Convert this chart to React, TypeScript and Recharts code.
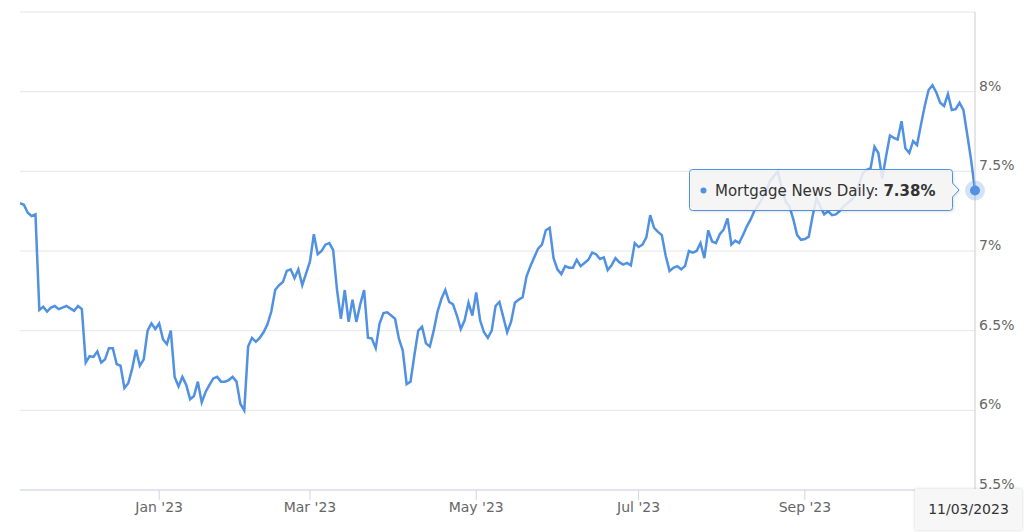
import { LineChart, Line, XAxis, YAxis, CartesianGrid, ReferenceDot } from "recharts";

const seriesName = "Mortgage News Daily";
const lastDate = "11/03/2023";

// one value per trading day, mid Nov 2022 -> 11/03/2023
const rates = [
  7.30, 7.29, 7.24, 7.22, 7.23, 6.63, 6.65, 6.62, 6.645, 6.655,
  6.635, 6.645, 6.655, 6.64, 6.625, 6.655, 6.635, 6.30, 6.34, 6.335,
  6.37, 6.30, 6.32, 6.39, 6.39, 6.29, 6.28, 6.14, 6.17, 6.26,
  6.38, 6.28, 6.32, 6.50, 6.545, 6.51, 6.545, 6.445, 6.415, 6.50,
  6.21, 6.15, 6.21, 6.16, 6.07, 6.09, 6.18, 6.05, 6.115, 6.16,
  6.20, 6.21, 6.18, 6.18, 6.19, 6.21, 6.18, 6.04, 6.00, 6.40,
  6.455, 6.43, 6.455, 6.49, 6.54, 6.62, 6.755, 6.785, 6.805, 6.875,
  6.885, 6.83, 6.885, 6.785, 6.86, 6.935, 7.105, 6.98, 7.00, 7.04,
  7.05, 7.005, 6.755, 6.575, 6.755, 6.555, 6.695, 6.555, 6.665, 6.755,
  6.455, 6.45, 6.39, 6.545, 6.61, 6.615, 6.595, 6.575, 6.45, 6.375,
  6.165, 6.18, 6.345, 6.50, 6.525, 6.42, 6.40, 6.50, 6.62, 6.70,
  6.755, 6.68, 6.665, 6.595, 6.51, 6.565, 6.675, 6.595, 6.74, 6.565,
  6.49, 6.455, 6.50, 6.655, 6.68, 6.585, 6.49, 6.555, 6.675, 6.695,
  6.71, 6.84, 6.905, 6.96, 7.015, 7.04, 7.13, 7.145, 6.955, 6.885,
  6.855, 6.905, 6.895, 6.895, 6.945, 6.905, 6.925, 6.945, 6.99, 6.98,
  6.95, 6.96, 6.88, 6.91, 6.955, 6.93, 6.915, 6.925, 6.91, 7.05,
  7.025, 7.04, 7.085, 7.225, 7.145, 7.12, 7.10, 6.97, 6.875, 6.895,
  6.905, 6.885, 6.905, 7.00, 6.99, 7.00, 7.05, 6.955, 7.13, 7.06,
  7.05, 7.105, 7.135, 7.205, 7.04, 7.065, 7.05, 7.10, 7.155, 7.20,
  7.255, 7.29, 7.33, 7.38, 7.44, 7.47, 7.50, 7.40, 7.31, 7.28,
  7.20, 7.10, 7.07, 7.075, 7.09, 7.22, 7.33, 7.28, 7.23, 7.25,
  7.225, 7.23, 7.25, 7.28, 7.30, 7.32, 7.35, 7.42, 7.49, 7.51,
  7.52, 7.655, 7.615, 7.455, 7.595, 7.725, 7.71, 7.70, 7.815, 7.645,
  7.615, 7.69, 7.665, 7.79, 7.91, 8.01, 8.04, 7.995, 7.93, 7.91,
  7.985, 7.885, 7.89, 7.93, 7.885, 7.73, 7.57, 7.38,
];

// index of the first trading day of each labelled month
const monthTickIndex = [36, 75, 118, 160, 203];
const monthTickLabel = ["Jan '23", "Mar '23", "May '23", "Jul '23", "Sep '23"];

const yTicks = [5.5, 6, 6.5, 7, 7.5, 8, 8.5];

const LINE = "#5191e1";

const chartData = rates.map((rate, i) => ({ i, rate }));
const lastIndex = rates.length - 1;
const lastRate = rates[lastIndex];

function YTick({ x, y, payload }: any) {
  // top gridline has no label
  if (payload.value === 8.5) return null;
  return (
    <text x={x} y={y} dy={-1} textAnchor="start" fill="#666" fontSize={14}>
      {`${payload.value}%`}
    </text>
  );
}

function Marker({ cx, cy }: any) {
  return (
    <g>
      <circle cx={cx} cy={cy} r={10} fill={LINE} fillOpacity={0.25} />
      <circle cx={cx} cy={cy} r={5} fill={LINE} />
    </g>
  );
}

function FakeTooltip() {
  return (
    <svg
      width={275}
      height={44}
      style={{ position: "absolute", left: 689, top: 169, overflow: "visible" }}
    >
      <path
        d="M 3.5 0.5 L 260.5 0.5 Q 263.5 0.5 263.5 3.5 L 263.5 14 L 270 21 L 263.5 28 L 263.5 38.5 Q 263.5 41.5 260.5 41.5 L 3.5 41.5 Q 0.5 41.5 0.5 38.5 L 0.5 3.5 Q 0.5 0.5 3.5 0.5 Z"
        fill="rgba(247,247,247,0.85)"
        stroke={LINE}
        strokeWidth={1}
        style={{ filter: "drop-shadow(1px 1px 1px rgba(0,0,0,0.12))" }}
      />
      <circle cx={14.5} cy={21.5} r={3} fill={LINE} />
      <text x={26} y={27} fontSize={15} fill="#333">
        {`${seriesName}: `}
        <tspan fontWeight="bold">{`${lastRate.toFixed(2)}%`}</tspan>
      </text>
    </svg>
  );
}

export default function App() {
  return (
    <div
      style={{
        position: "absolute",
        left: 0,
        top: 0,
        width: 1024,
        height: 532,
        background: "#fff",
        fontFamily: "'DejaVu Sans', sans-serif",
      }}
    >
      <LineChart
        width={1024}
        height={532}
        data={chartData}
        margin={{ top: 12, right: 0, bottom: 0, left: 20 }}
      >
        <CartesianGrid stroke="#e6e6e6" vertical={false} />
        <XAxis
          dataKey="i"
          type="number"
          domain={[0, lastIndex]}
          ticks={monthTickIndex}
          interval={0}
          tickFormatter={(v) => monthTickLabel[monthTickIndex.indexOf(v)] ?? ""}
          height={42}
          stroke="#ccd6eb"
          tickSize={10}
          tickMargin={2}
          tick={{ fill: "#666", fontSize: 14 }}
        />
        <YAxis
          orientation="right"
          type="number"
          domain={[5.5, 8.5]}
          ticks={yTicks}
          interval={0}
          width={49}
          stroke="#cccccc"
          tickLine={false}
          tickSize={0}
          tickMargin={4}
          tick={<YTick />}
        />
        <Line
          type="linear"
          dataKey="rate"
          stroke={LINE}
          strokeWidth={2.5}
          dot={false}
          activeDot={false}
          isAnimationActive={false}
        />
        <ReferenceDot x={lastIndex} y={lastRate} shape={<Marker />} ifOverflow="visible" />
      </LineChart>
      <FakeTooltip />
      <div
        style={{
          position: "absolute",
          left: 915,
          top: 489,
          width: 107,
          height: 41,
          background: "#f7f7f7",
          boxShadow: "0 0 3px rgba(0,0,0,0.18)",
          color: "#333",
          fontSize: 14,
          lineHeight: "41px",
          textAlign: "center",
        }}
      >
        {lastDate}
      </div>
    </div>
  );
}
